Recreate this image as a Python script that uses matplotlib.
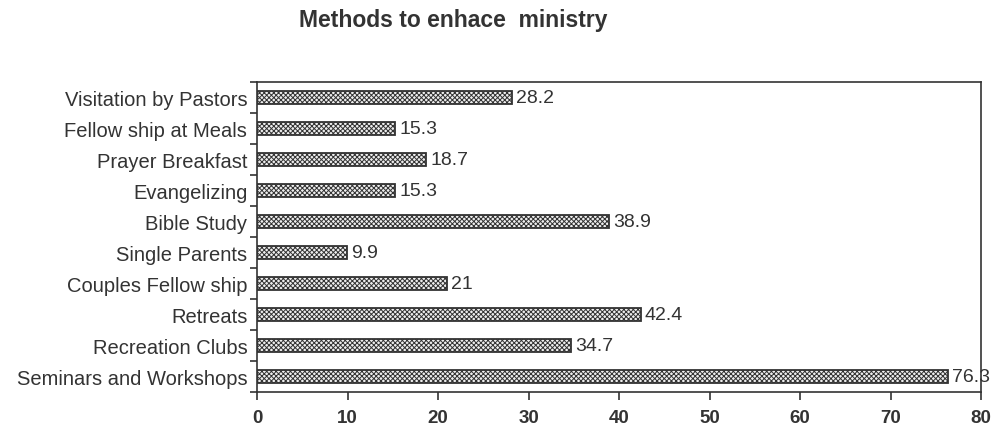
import matplotlib
matplotlib.use("Agg")
import matplotlib.pyplot as plt
import numpy as np

categories = [
    "Visitation by Pastors",
    "Fellow ship at Meals",
    "Prayer Breakfast",
    "Evangelizing",
    "Bible Study",
    "Single Parents",
    "Couples Fellow ship",
    "Retreats",
    "Recreation Clubs",
    "Seminars and Workshops",
]
values = [28.2, 15.3, 18.7, 15.3, 38.9, 9.9, 21, 42.4, 34.7, 76.3]
value_labels = ["28.2", "15.3", "18.7", "15.3", "38.9", "9.9", "21", "42.4", "34.7", "76.3"]
x_ticks = [0, 10, 20, 30, 40, 50, 60, 70, 80]

plt.rcParams["font.family"] = ["Liberation Sans", "DejaVu Sans"]
plt.rcParams["hatch.color"] = "#3a3a3a"
plt.rcParams["hatch.linewidth"] = 0.7

fig = plt.figure(figsize=(9.97, 4.27), dpi=100)
ax = fig.add_axes([0.2578, 0.0796, 0.7262, 0.726])

y = np.arange(len(categories))
ax.barh(y, values, height=0.4, color="#eeeeee", edgecolor="#333333",
        linewidth=1.3, hatch="xxxxxxx")

for yi, v, lab in zip(y, values, value_labels):
    ax.annotate(lab, (v, yi), xytext=(3, 0), textcoords="offset points",
                va="center", ha="left", fontsize=14, color="#333333")

ax.set_xlim(0, 80)
ax.set_ylim(len(categories) - 0.5, -0.5)
ax.set_xticks(x_ticks)
ax.set_xticklabels([str(t) for t in x_ticks], fontsize=13.5, fontweight="bold",
                   color="#333333")
ax.set_yticks(y)
ax.set_yticklabels(categories, fontsize=14.5, color="#333333")
ax.set_yticks(np.arange(-0.5, len(categories)), minor=True)
ax.tick_params(axis="y", which="major", length=0, pad=7)
ax.tick_params(axis="y", which="minor", length=5, width=1.2, color="#333333")
ax.tick_params(axis="x", which="major", length=6, width=1.2, color="#333333", pad=6)
for s in ax.spines.values():
    s.set_linewidth(1.2)
    s.set_color("#333333")

fig.text(0.455, 0.953, "Methods to enhace  ministry", ha="center", va="center",
         fontsize=16.5, fontweight="bold", color="#333333")

fig.savefig("out.png", dpi=100)
